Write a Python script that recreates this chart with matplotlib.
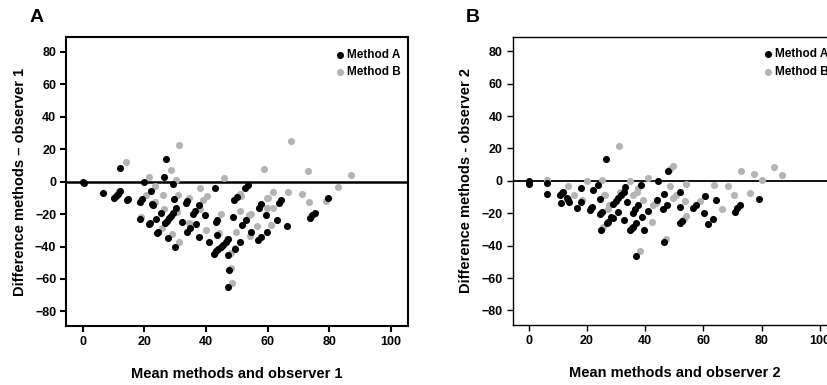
import matplotlib
matplotlib.use('Agg')
import matplotlib.pyplot as plt

plt.rcParams['font.family'] = ['Liberation Sans', 'DejaVu Sans']
plt.rcParams['font.weight'] = 'bold'

# Panel A: mean of methods and observer 1 vs difference
a_meth_a_x = [0, 0.4, 12.1, 19.9, 27.0, 26.4, 29.4, 6.5, 10.0, 10.7, 11.4, 12.0,
              14.7, 14.4, 18.6, 19.3, 22.0, 22.7, 22.3, 18.4, 21.6, 21.9, 24.0, 24.3,
              25.3, 23.8, 26.8, 27.4, 28.1, 28.7, 29.4, 30.3, 27.7, 29.8, 29.6, 32.2,
              33.5, 33.9, 33.7, 34.8, 36.5, 35.7, 36.8, 37.8, 37.6, 39.6, 40.9, 42.8,
              43.2, 43.5, 43.5, 42.6, 43.3, 44.0, 44.8, 45.6, 46.4, 47.2, 47.2, 47.6,
              47.1, 48.9, 49.3, 51.0, 49.0, 50.0, 51.6, 52.9, 52.8, 53.6, 54.7, 57.1,
              58.0, 56.9, 57.7, 59.5, 59.7, 63.1, 63.6, 64.4, 66.2, 73.7, 74.5, 75.4,
              79.7]
a_meth_a_y = [0, -1, 8.2, 0, 14.2, 3.1, -1.2, -7.2, -10.0, -8.8, -7.4, -6.0,
              -10.5, -11.5, -12.3, -11.0, -5.6, -14.4, -13.5, -23.2, -26.3, -25.5, -31.8, -31.0,
              -19.1, -23.2, -25.6, -24.1, -22.6, -21.0, -19.5, -16.4, -34.5, -40.4, -10.7, -24.6,
              -13.0, -12.0, -30.8, -28.7, -17.8, -19.8, -26.3, -34.3, -14.4, -20.5, -37.5, -4.2,
              -24.6, -23.5, -33.2, -44.5, -43.0, -41.6, -40.3, -39.0, -37.2, -35.5, -45.3, -54.4,
              -65.2, -22.0, -41.4, -37.3, -11.3, -9.2, -26.7, -23.6, -4.1, -2.0, -30.8, -16.0,
              -13.7, -35.9, -34.3, -20.5, -30.8, -23.6, -13.3, -11.3, -27.3, -22.6, -20.8, -19.1,
              -10.3]
a_meth_b_x = [14.1, 31.1, 28.5, 30.3, 21.4, 23.5, 25.9, 30.8, 38.1, 40.4, 39.1, 45.8,
              51.0, 58.8, 61.6, 59.9, 66.6, 67.5, 71.1, 73.2, 73.5, 79.1, 83.0, 87.0,
              11.7, 20.5, 19.0, 23.4, 26.2, 25.8, 28.8, 30.7, 31.3, 34.4, 34.6, 38.1,
              40.0, 44.3, 45.0, 46.7, 48.2, 49.4, 48.2, 48.6, 49.7, 51.0, 51.2, 54.0,
              54.7, 54.3, 56.4, 59.9, 60.2, 61.0, 61.8]
a_meth_b_y = [12.1, 22.6, 7.0, 0.8, 3.1, -2.9, -8.0, -8.0, -4.0, -8.8, -11.3, 2.1,
              -7.4, 8.0, -6.6, -9.8, -6.6, 25.2, -7.8, 6.6, -12.7, -11.7, -3.5, 4.3,
              -6.0, -8.2, -21.5, -12.3, -17.0, -28.3, -32.2, -18.5, -37.3, -10.3, -25.2, -17.0,
              -29.7, -31.4, -19.9, -35.5, -43.7, -41.0, -53.3, -62.6, -30.8, -17.8, -8.6, -20.5,
              -20.0, -33.8, -27.1, -16.4, -10.3, -26.7, -16.4]

# Panel B: mean of methods and observer 2 vs difference
b_meth_a_x = [0, 0.2, 6.2, 6.2, 10.8, 11.3, 11.7, 11.2, 13.3, 14.0, 13.6, 17.9,
              16.5, 18.1, 20.9, 21.4, 21.8, 22.2, 23.8, 26.6, 24.3, 24.3, 25.0, 24.8,
              26.8, 28.4, 28.9, 29.8, 30.8, 31.8, 32.7, 30.5, 32.8, 33.2, 33.7, 34.8,
              35.3, 35.8, 35.8, 36.6, 37.4, 36.9, 36.9, 39.0, 39.7, 38.7, 40.8, 44.2,
              44.5, 46.3, 46.1, 46.3, 47.4, 47.8, 51.8, 51.8, 51.8, 52.7, 56.4, 57.3,
              60.3, 60.5, 61.7, 63.3, 64.2, 70.8, 71.6, 72.4, 79.1, 27.1, 28.8]
b_meth_a_y = [0, -1.9, -1.6, -8.0, -8.7, -7.6, -6.6, -13.4, -10.7, -12.8, -11.8, -4.4,
              -16.9, -13.2, -17.9, -16.9, -15.9, -5.6, -2.5, 13.4, -11.3, -20.6, -19.0, -30.3,
              -26.2, -22.5, -14.5, -12.6, -10.7, -8.9, -7.0, -19.4, -24.1, -3.5, -12.8, -30.3,
              -29.2, -28.2, -20.0, -17.4, -14.8, -26.2, -46.4, -22.1, -30.3, -2.5, -18.4, -11.8,
              -0.4, -37.5, -17.5, -8.0, -14.8, 5.8, -6.6, -16.3, -26.2, -24.5, -16.9, -14.8,
              -19.6, -9.3, -26.6, -23.5, -11.8, -19.0, -16.9, -14.8, -11.1, -25.2, -23.1]
b_meth_b_x = [6.2, 13.5, 15.4, 19.9, 25.2, 25.7, 31.0, 34.6, 40.8, 48.6, 49.5, 48.4,
              54.1, 63.7, 68.3, 72.9, 77.2, 80.2, 84.1, 86.9, 70.6, 76.1, 58.7, 53.6,
              37.1, 35.8, 39.2, 42.6, 43.8, 18.3, 26.1, 27.7, 25.4, 31.2, 37.6, 38.3,
              42.2, 47.0, 49.7, 50.7, 54.1, 53.2, 66.2, 27.3]
b_meth_b_y = [0.3, -2.9, -8.7, -0.4, 0.8, -8.7, 21.6, -0.4, 1.9, 7.2, 9.3, -3.1,
              -1.9, -2.7, -3.1, 5.8, 4.3, 0.6, 8.5, 3.7, -8.5, -7.4, -12.2, -12.2,
              -6.6, -8.7, -11.8, -14.8, -13.4, -11.8, -8.7, -14.8, -28.2, -6.6, -4.5, -43.1,
              -25.2, -36.1, -10.7, -8.7, -21.6, -23.7, -17.3, -17.4]

ticks_x = [0, 20, 40, 60, 80, 100]
ticks_y = [-80, -60, -40, -20, 0, 20, 40, 60, 80]

BLACK = '#000000'
GREY = '#b4b4b4'


def draw_panel(ax, xa, ya, xb, yb, xlabel, ylabel, lw):
    hb = ax.scatter(xb, yb, s=26, color=GREY, linewidths=0, zorder=3, label='Method B')
    ha = ax.scatter(xa, ya, s=26, color=BLACK, linewidths=0, zorder=4, label='Method A')
    ax.axhline(0, color='black', linewidth=lw + 0.3, zorder=2)
    ax.set_xlim(-5.5, 105.5)
    ax.set_ylim(-89, 89)
    ax.set_xticks(ticks_x)
    ax.set_yticks(ticks_y)
    ax.tick_params(direction='out', length=4, width=lw, labelsize=9, pad=3)
    for lab in ax.get_xticklabels() + ax.get_yticklabels():
        lab.set_fontweight('bold')
    for sp in ax.spines.values():
        sp.set_linewidth(lw)
    ax.set_xlabel(xlabel, fontsize=10.5, fontweight='bold', labelpad=14)
    ax.set_ylabel(ylabel, fontsize=10.5, fontweight='bold', labelpad=6)
    ax.legend([ha, hb], ['Method A', 'Method B'], loc='upper right',
              bbox_to_anchor=(1.015, 1.0), frameon=False,
              handletextpad=0.15, borderaxespad=0.6, labelspacing=0.45,
              prop={'size': 8.5, 'weight': 'bold'}, handlelength=1.0)


fig = plt.figure(figsize=(8.28, 3.85), dpi=100)
ax1 = fig.add_axes([0.0797, 0.1532, 0.4126, 0.750])
ax2 = fig.add_axes([0.6192, 0.1558, 0.3905, 0.749])

draw_panel(ax1, a_meth_a_x, a_meth_a_y, a_meth_b_x, a_meth_b_y,
           'Mean methods and observer 1', 'Difference methods \u2013 observer 1', 1.5)
draw_panel(ax2, b_meth_a_x, b_meth_a_y, b_meth_b_x, b_meth_b_y,
           'Mean methods and observer 2', 'Difference methods - observer 2', 1.0)

fig.text(0.036, 0.955, 'A', fontsize=14, fontweight='bold', va='center')
fig.text(0.563, 0.955, 'B', fontsize=14, fontweight='bold', va='center')

fig.savefig('out.png', dpi=100)
